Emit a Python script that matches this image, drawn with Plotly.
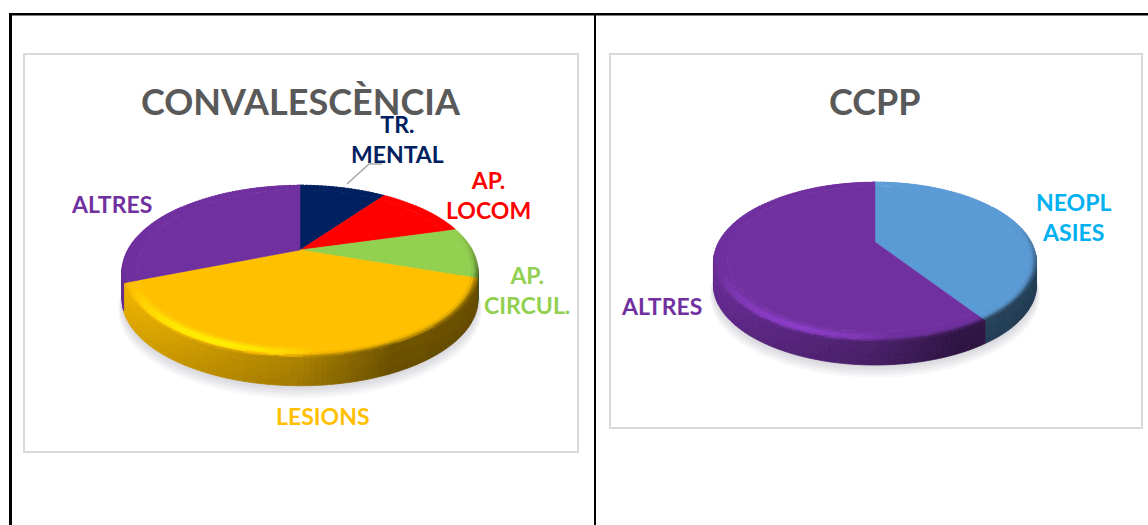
import math
import numpy as np
import plotly.graph_objects as go

# ---- data (clockwise from 12 o'clock) ----
conv_labels = ["TR.<br>MENTAL", "AP.<br>LOCOM", "AP.<br>CIRCUL.", "LESIONS", "ALTRES"]
conv_values = [10, 10.7, 9.5, 38.8, 31]
conv_colors = ["#002060", "#FF0000", "#92D050", "#FFC000", "#7030A0"]
conv_title = "CONVALESCÈNCIA"

ccpp_labels = ["NEOPL<br>ASIES", "ALTRES"]
ccpp_values = [40.6, 59.4]
ccpp_colors = ["#5B9BD5", "#7030A0"]
ccpp_title = "CCPP"
ccpp_text_colors = ["#00B0F0", "#7030A0"]

W, H = 1148, 525
RI = 0.92
RADII = [0.92, 0.935, 0.95, 0.965, 0.98, 0.99, 1.0]


def rgb(h):
    return np.array([int(h[i:i + 2], 16) for i in (1, 3, 5)], float)


def hexs(c, base):
    # quantise around the slice's own colour so an unshaded rim equals the flat top
    c = np.clip(base + np.round((c - base) / 3) * 3, 0, 255).astype(int)
    return "#%02x%02x%02x" % tuple(c)


class Disc:
    """Perspective projection of a unit disc onto the plot's coordinates."""

    def __init__(self, ax, ay, A, B, k, depth):
        self.ax, self.ay, self.A, self.B, self.k, self.depth = ax, ay, A, B, k, depth

    def pt(self, theta, r=1.0, dz=0.0):
        s, c = math.sin(theta), math.cos(theta)
        d = 1 + self.k * r * c
        return self.ax + self.A * r * s / d, self.ay - self.B * r * c / d + dz


def side_factor(u):
    return float(np.interp(u, [-1, -0.5, 0, 0.4, 1], [0.92, 0.78, 0.64, 0.42, 0.40]))


def add_poly(store, color, xs, ys):
    e = store.setdefault(color, ([], []))
    e[0].extend(list(xs) + [xs[0], None])
    e[1].extend(list(ys) + [ys[0], None])


def draw_pie(fig, disc, values, colors):
    # soft ground shadow
    ts = np.linspace(0, 2 * math.pi, 181)
    for grow, alpha in [(10, 0.14), (8, 0.18), (6, 0.22), (4, 0.28), (2, 0.32)]:
        px = [disc.pt(t, 1 + grow / 500, disc.depth + grow)[0] for t in ts]
        py = [disc.pt(t, 1 + grow / 500, disc.depth + grow)[1] for t in ts]
        fig.add_trace(go.Scatter(x=px, y=py, mode="lines", fill="toself",
                                 line=dict(width=0), fillcolor=f"rgba(205,205,212,{alpha})",
                                 hoverinfo="skip", showlegend=False))

    total = sum(values)
    edges = np.cumsum([0] + list(values)) / total * 2 * math.pi
    store = {}
    flats = []
    for i, col in enumerate(colors):
        a0, a1 = edges[i], edges[i + 1]
        n = max(2, int((a1 - a0) / math.radians(1.5)))
        angs = np.linspace(a0, a1, n + 1)
        base = rgb(col)
        for t0, t1 in zip(angs[:-1], angs[1:]):
            tm = (t0 + t1) / 2
            u, cm = math.sin(tm), math.cos(tm)
            sf = side_factor(u)
            w = min(1, max(0, (0.25 - cm) / 0.75))
            hi = max(0, 1 - ((u + 0.42) / 0.5) ** 2) * w
            sidec = base * sf
            # front wall
            if cm < -disc.k + 0.08:
                bands = 4
                for b in range(bands):
                    f0, f1 = b / bands, (b + 1) / bands
                    c = base * (sf * (1.04 - 0.08 * f0))
                    p = [disc.pt(t0, 1, f0 * disc.depth), disc.pt(t1, 1, f0 * disc.depth),
                         disc.pt(t1, 1, f1 * disc.depth), disc.pt(t0, 1, f1 * disc.depth)]
                    add_poly(store, hexs(c, base), [q[0] for q in p], [q[1] for q in p])
            # bevel on top of the rim
            for r0, r1 in zip(RADII[:-1], RADII[1:]):
                t = ((r0 + r1) / 2 - RI) / (1 - RI)
                lit = base * (1 + 0.28 * hi)
                if t < 0.55:
                    c = base + (lit - base) * (t / 0.55)
                else:
                    c = lit + (sidec - lit) * ((t - 0.55) / 0.45) ** 1.4
                c = base + (c - base) * w
                p = [disc.pt(t0, r0), disc.pt(t1, r0), disc.pt(t1, r1), disc.pt(t0, r1)]
                add_poly(store, hexs(c, base), [q[0] for q in p], [q[1] for q in p])
        arc = [disc.pt(t, RI) for t in angs]
        flats.append((col, [disc.ax] + [q[0] for q in arc], [disc.ay] + [q[1] for q in arc]))

    for col, (xs, ys) in store.items():
        fig.add_trace(go.Scatter(x=xs, y=ys, mode="lines", fill="toself", fillcolor=col,
                                 line=dict(color=col, width=0.8), hoverinfo="skip", showlegend=False))
    for col, xs, ys in flats:
        fig.add_trace(go.Scatter(x=xs + [xs[0]], y=ys + [ys[0]], mode="lines", fill="toself",
                                 fillcolor=col, line=dict(color=col, width=0.5),
                                 hoverinfo="skip", showlegend=False))


fig = go.Figure()
draw_pie(fig, Disc(300, 250, 172.4, 81, 0.248, 28), conv_values, conv_colors)
draw_pie(fig, Disc(875, 242, 156.4, 75, 0.25, 23), ccpp_values, ccpp_colors)

# leader line for TR. MENTAL
fig.add_trace(go.Scatter(x=[347, 369, 382], y=[184, 164, 164], mode="lines",
                         line=dict(color="#A6A6A6", width=1.5), hoverinfo="skip", showlegend=False))

FONT = "Lato, Carlito, Calibri, sans-serif"


def label(x, y, text, color, size=23):
    fig.add_annotation(x=x, y=y, text=f"<b>{text}</b>", showarrow=False, xanchor="center",
                       yanchor="middle", font=dict(family=FONT, size=size, color=color))


label(301, 101, conv_title, "#595959", 36)
label(875, 101, ccpp_title, "#595959", 36)
label(397, 139, conv_labels[0], conv_colors[0])
label(488, 195, conv_labels[1], conv_colors[1])
label(527, 290, conv_labels[2], conv_colors[2])
label(323, 416, conv_labels[3], conv_colors[3])
label(111, 204, conv_labels[4], conv_colors[4])
label(1073, 217, ccpp_labels[0], ccpp_text_colors[0])
label(661, 306, ccpp_labels[1], ccpp_text_colors[1])

frame = dict(type="rect", xref="x", yref="y", layer="below", line=dict(color="#D9D9D9", width=2))


def black(x0, y0, x1, y1, width):
    return dict(type="line", xref="x", yref="y", layer="above", x0=x0, y0=y0, x1=x1, y1=y1,
                line=dict(color="#000000", width=width))


fig.update_layout(
    width=W, height=H, margin=dict(l=0, r=0, t=0, b=0),
    paper_bgcolor="white", plot_bgcolor="white", showlegend=False,
    xaxis=dict(range=[0, W], visible=False, fixedrange=True),
    yaxis=dict(range=[H, 0], visible=False, fixedrange=True),
    shapes=[
        dict(frame, x0=24, y0=54, x1=578, y1=452),
        dict(frame, x0=610, y0=54, x1=1142, y1=428),
        black(9, 14.3, W, 14.3, 2.6),
        black(10.5, 13, 10.5, H, 3),
        black(595, 14, 595, H, 2),
    ],
)

fig.write_html("out.html", config=dict(displayModeBar=False),
               post_script="document.body.style.margin='0';document.body.style.overflow='hidden';")
